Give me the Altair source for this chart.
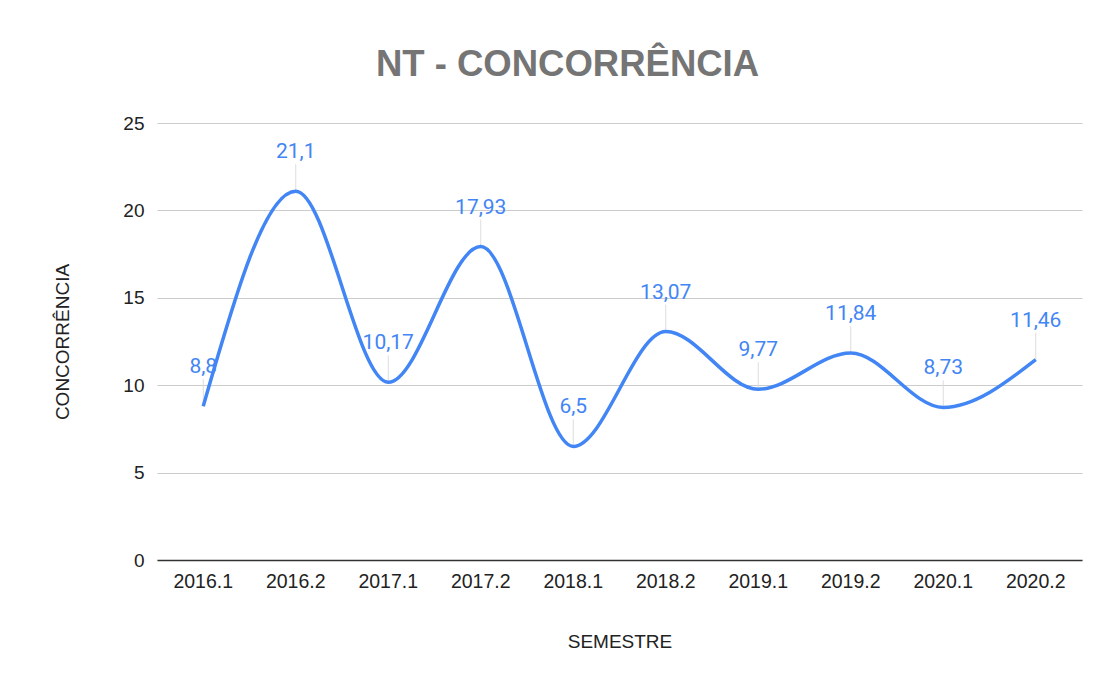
import altair as alt
import pandas as pd

semesters = ["2016.1", "2016.2", "2017.1", "2017.2", "2018.1",
             "2018.2", "2019.1", "2019.2", "2020.1", "2020.2"]
values = [8.8, 21.1, 10.17, 17.93, 6.5, 13.07, 9.77, 11.84, 8.73, 11.46]
labels = ["8,8", "21,1", "10,17", "17,93", "6,5", "13,07", "9,77", "11,84", "8,73", "11,46"]
y_ticks = [0, 5, 10, 15, 20, 25]

df = pd.DataFrame({"SEMESTRE": semesters, "CONCORRENCIA": values, "label": labels})

BLUE = "#4285F4"
AXIS_FONT = "Liberation Sans"

x = alt.X("SEMESTRE:N", sort=semesters, title="SEMESTRE",
          scale=alt.Scale(padding=0),
          axis=alt.Axis(labelAngle=0, labelFontSize=19.5, labelColor="#222222",
                        labelFont=AXIS_FONT, labelPadding=12, ticks=False,
                        domain=True, domainColor="#333333", domainWidth=1.5,
                        titleFont=AXIS_FONT, titleFontSize=19, titleFontWeight="normal",
                        titleColor="#222222", titlePadding=42, grid=False))
y = alt.Y("CONCORRENCIA:Q", title="CONCORRÊNCIA",
          scale=alt.Scale(domain=[0, 25], nice=False),
          axis=alt.Axis(values=y_ticks, labelFontSize=19, labelColor="#222222",
                        labelFont=AXIS_FONT, labelPadding=13, ticks=False, domain=False,
                        gridColor="#cccccc", gridWidth=1.2,
                        titleFont=AXIS_FONT, titleFontSize=19, titleFontWeight="normal",
                        titleColor="#222222", titlePadding=50))

base = alt.Chart(df)

leaders = base.mark_rule(color="#dddddd", strokeWidth=1, y2Offset=-27).encode(
    x=x, y=y, y2="CONCORRENCIA:Q")

line = base.mark_line(color=BLUE, strokeWidth=3.5, interpolate="monotone").encode(x=x, y=y)

text = base.mark_text(color=BLUE, font="Roboto", fontSize=21, baseline="bottom",
                      dy=-29).encode(x=x, y=y, text="label:N")

chart = alt.layer(leaders, line, text).properties(
    width=925, height=437,
    background="white",
    title=alt.TitleParams("NT - CONCORRÊNCIA", font=AXIS_FONT, fontSize=36.5,
                          fontWeight="bold", color="#757575", offset=31, dx=-52),
    autosize=alt.AutoSizeParams(type="none"),
    padding={"left": 149, "top": 115, "right": 12, "bottom": 120},
).configure_view(stroke=None)

chart.save("out.html", embed_options={"renderer": "svg", "actions": False})
